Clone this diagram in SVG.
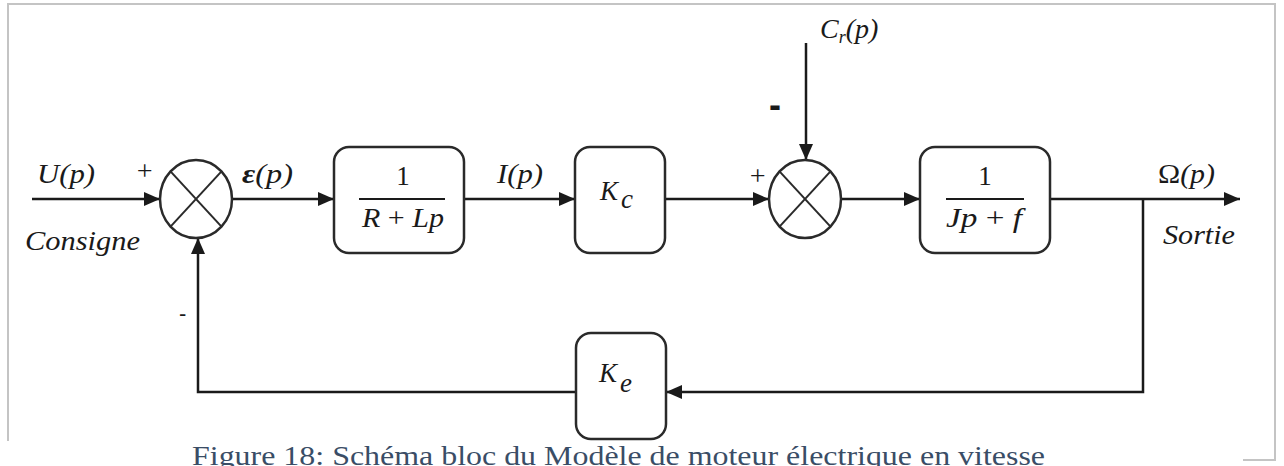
<svg xmlns="http://www.w3.org/2000/svg" width="1284" height="466" viewBox="0 0 1284 466">
  <defs>
    <marker id="arr" markerUnits="userSpaceOnUse" markerWidth="18" markerHeight="14" refX="16" refY="7" orient="auto">
      <path d="M0,0 L16,7 L0,14 Z" fill="#1a1a1a"/>
    </marker>
    <style>
      .frame { stroke: #c4c4c4; stroke-width: 2; fill: none; }
      .blk { fill: #ffffff; stroke: #2a2a2a; stroke-width: 2.5; }
      .sum { fill: #ffffff; stroke: #2a2a2a; stroke-width: 2.5; }
      .x { stroke: #2a2a2a; stroke-width: 2; }
      .bar { stroke: #1a1a1a; stroke-width: 2; }
      .wire { fill: none; stroke: #1a1a1a; stroke-width: 2.5; }
      .lbl { font-style: italic; font-size: 28px; fill: #1a1a1a; }
      .math { font-size: 27px; fill: #1a1a1a; }
      .mi { font-style: italic; }
      .cap { font-size: 27px; fill: #3a4d66; }
    </style>
  </defs>
  <rect width="1284" height="466" fill="#ffffff"/>
  <g id="frame">
    <line class="frame" x1="7" y1="4" x2="1276" y2="4" stroke="#e2e2e2"/>
    <line class="frame" x1="8" y1="4" x2="8" y2="441"/>
    <line class="frame" x1="1275" y1="4" x2="1275" y2="460"/>
    <line class="frame" x1="1243" y1="460" x2="1276" y2="460"/>
  </g>

  <g id="connectors">
    <path class="wire" d="M32,199 H160" marker-end="url(#arr)"/>
    <path class="wire" d="M232,199 H334" marker-end="url(#arr)"/>
    <path class="wire" d="M464,199 H575" marker-end="url(#arr)"/>
    <path class="wire" d="M665,199 H769" marker-end="url(#arr)"/>
    <path class="wire" d="M806,43 V160" marker-end="url(#arr)"/>
    <path class="wire" d="M841,199 H920" marker-end="url(#arr)"/>
    <path class="wire" d="M1050,199 H1240" marker-end="url(#arr)"/>
    <path class="wire" d="M1143,199 V392 H666" marker-end="url(#arr)"/>
    <path class="wire" d="M576,392 H198 V238" marker-end="url(#arr)"/>
  </g>

  <g id="sum1">
    <ellipse class="sum" cx="196" cy="199" rx="36" ry="39"/>
    <line class="x" x1="170.5" y1="171.4" x2="221.5" y2="226.6"/>
    <line class="x" x1="170.5" y1="226.6" x2="221.5" y2="171.4"/>
  </g>
  <g id="sum2">
    <ellipse class="sum" cx="805" cy="199" rx="36" ry="39"/>
    <line class="x" x1="779.5" y1="171.4" x2="830.5" y2="226.6"/>
    <line class="x" x1="779.5" y1="226.6" x2="830.5" y2="171.4"/>
  </g>

  <g font-family="'Liberation Serif', Tinos, 'Times New Roman', Times, 'Nimbus Roman', FreeSerif, 'DejaVu Serif', serif">
  <g id="block-electrical">
    <rect class="blk" x="334" y="147" width="130" height="106" rx="15"/>
    <text class="math" x="403" y="185" text-anchor="middle">1</text>
    <line class="bar" x1="359" y1="199" x2="445" y2="199"/>
    <text class="math" x="362" y="227" textLength="82" lengthAdjust="spacingAndGlyphs"><tspan class="mi">R</tspan> + <tspan class="mi">Lp</tspan></text>
  </g>
  <g id="block-kc">
    <rect class="blk" x="575" y="147" width="90" height="106" rx="15"/>
    <text class="math mi" x="600" y="200" font-size="33">K</text>
    <text class="math mi" x="621" y="208" font-size="24">c</text>
  </g>
  <g id="block-mechanical">
    <rect class="blk" x="920" y="147" width="130" height="106" rx="15"/>
    <text class="math" x="985" y="185" text-anchor="middle">1</text>
    <line class="bar" x1="946" y1="199" x2="1024" y2="199"/>
    <text class="math" x="946" y="227" textLength="76" lengthAdjust="spacingAndGlyphs"><tspan class="mi">Jp</tspan> + <tspan class="mi">f</tspan></text>
  </g>
  <g id="block-ke">
    <rect class="blk" x="576" y="333" width="90" height="106" rx="15"/>
    <text class="math mi" x="599" y="382" font-size="33">K</text>
    <text class="math mi" x="620" y="392" font-size="24">e</text>
  </g>

  <g id="labels">
    <text class="lbl" x="37" y="183" textLength="58" lengthAdjust="spacingAndGlyphs">U(p)</text>
    <text class="lbl" x="135" y="180" font-size="22" font-style="normal">+</text>
    <text class="lbl" x="25" y="250" textLength="115" lengthAdjust="spacingAndGlyphs">Consigne</text>
    <text class="lbl" x="242" y="183" font-weight="bold" textLength="51" lengthAdjust="spacingAndGlyphs">ε<tspan font-weight="normal">(p)</tspan></text>
    <text class="lbl" x="497" y="183" textLength="46" lengthAdjust="spacingAndGlyphs">I(p)</text>
    <text class="lbl" x="748" y="185" font-size="18" font-style="normal">+</text>
    <text x="769" y="117" font-size="36" font-weight="bold" font-family="'Liberation Sans', Arial, sans-serif" fill="#1a1a1a">-</text>
    <text class="lbl" x="820" y="38">C<tspan font-size="18" dy="5">r</tspan><tspan dy="-5">(p)</tspan></text>
    <text class="lbl" x="1158" y="183" textLength="57" lengthAdjust="spacingAndGlyphs"><tspan font-style="normal">Ω</tspan>(p)</text>
    <text class="lbl" x="1163" y="244" textLength="72" lengthAdjust="spacingAndGlyphs">Sortie</text>
    <text x="179" y="321" font-size="22" font-family="'Liberation Sans', Arial, sans-serif" fill="#1a1a1a">-</text>
  </g>

  <g id="caption">
    <rect x="0" y="442" width="1243" height="24" fill="#ffffff"/>
    <text class="cap" x="192" y="465" textLength="853" lengthAdjust="spacingAndGlyphs">Figure 18: Schéma bloc du Modèle de moteur électrique en vitesse</text>
  </g>
  </g>
</svg>
